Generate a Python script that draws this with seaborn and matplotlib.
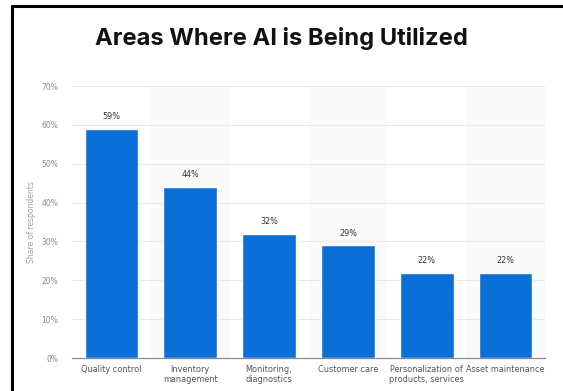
import matplotlib
matplotlib.use("Agg")
import matplotlib.pyplot as plt
from matplotlib.lines import Line2D
import seaborn as sns
import pandas as pd

categories = [
    "Quality control",
    "Inventory\nmanagement",
    "Monitoring,\ndiagnostics",
    "Customer care",
    "Personalization of\nproducts, services",
    "Asset maintenance",
]
shares = [59, 44, 32, 29, 22, 22]
y_ticks = [0, 10, 20, 30, 40, 50, 60, 70]

df = pd.DataFrame({"area": categories, "share": shares})

sns.set_theme(style="white")
plt.rcParams["font.family"] = ["DejaVu Sans"]

W, H = 563, 391
fig = plt.figure(figsize=(W / 100, H / 100), dpi=100)
ax = fig.add_axes([72 / W, 1 - 358 / H, (545 - 72) / W, (358 - 86) / H])

# alternating faint column bands
for i in range(len(categories)):
    if i % 2 == 1:
        ax.axvspan(i - 0.5, i + 0.5, color="#fafafa", zorder=0, lw=0)

sns.barplot(data=df, x="area", y="share", color="#0b6fd8", width=0.68,
            saturation=1, ax=ax, zorder=3)

ax.set_ylim(0, 70)
ax.set_xlim(-0.5, len(categories) - 0.5)
ax.set_yticks(y_ticks)
ax.set_yticklabels([f"{t}%" for t in y_ticks], fontsize=5.5, color="#8a8a8a")
ax.tick_params(axis="y", length=0, pad=10)
ax.tick_params(axis="x", length=0, pad=5, labelsize=5.9, labelcolor="#555555")
ax.grid(axis="y", color="#e8e8e8", lw=0.8, zorder=1)
for s in ["top", "right", "left"]:
    ax.spines[s].set_visible(False)
ax.spines["bottom"].set_color("#8a8a8a")
ax.spines["bottom"].set_linewidth(0.9)
ax.set_xlabel("")
ax.set_ylabel("Share of respondents", fontsize=5.5, color="#a0a0a0", labelpad=4)

for i, v in enumerate(shares):
    ax.text(i, v + 2.0, f"{v}%", ha="center", va="bottom", fontsize=5.8,
            color="#333333", zorder=4)

title = fig.text(281 / W, 1 - 39 / H, "Areas Where AI is Being Utilized",
                 ha="center", va="center", fontsize=16, fontweight="bold",
                 color="#111111", family=["Inter", "DejaVu Sans"])
# fit the title to its intended width
fig.canvas.draw()
bb = title.get_window_extent()
title.set_fontsize(16 * 373 / bb.width)

# frame lines along the top and left edges
fig.add_artist(Line2D([12 / W, 12 / W], [0, 1 - 6 / H], color="black", lw=2.2,
                      transform=fig.transFigure))
fig.add_artist(Line2D([12 / W, 1], [1 - 6 / H, 1 - 6 / H], color="black", lw=2.2,
                      transform=fig.transFigure))

fig.savefig("out.png", dpi=100, facecolor="white")
